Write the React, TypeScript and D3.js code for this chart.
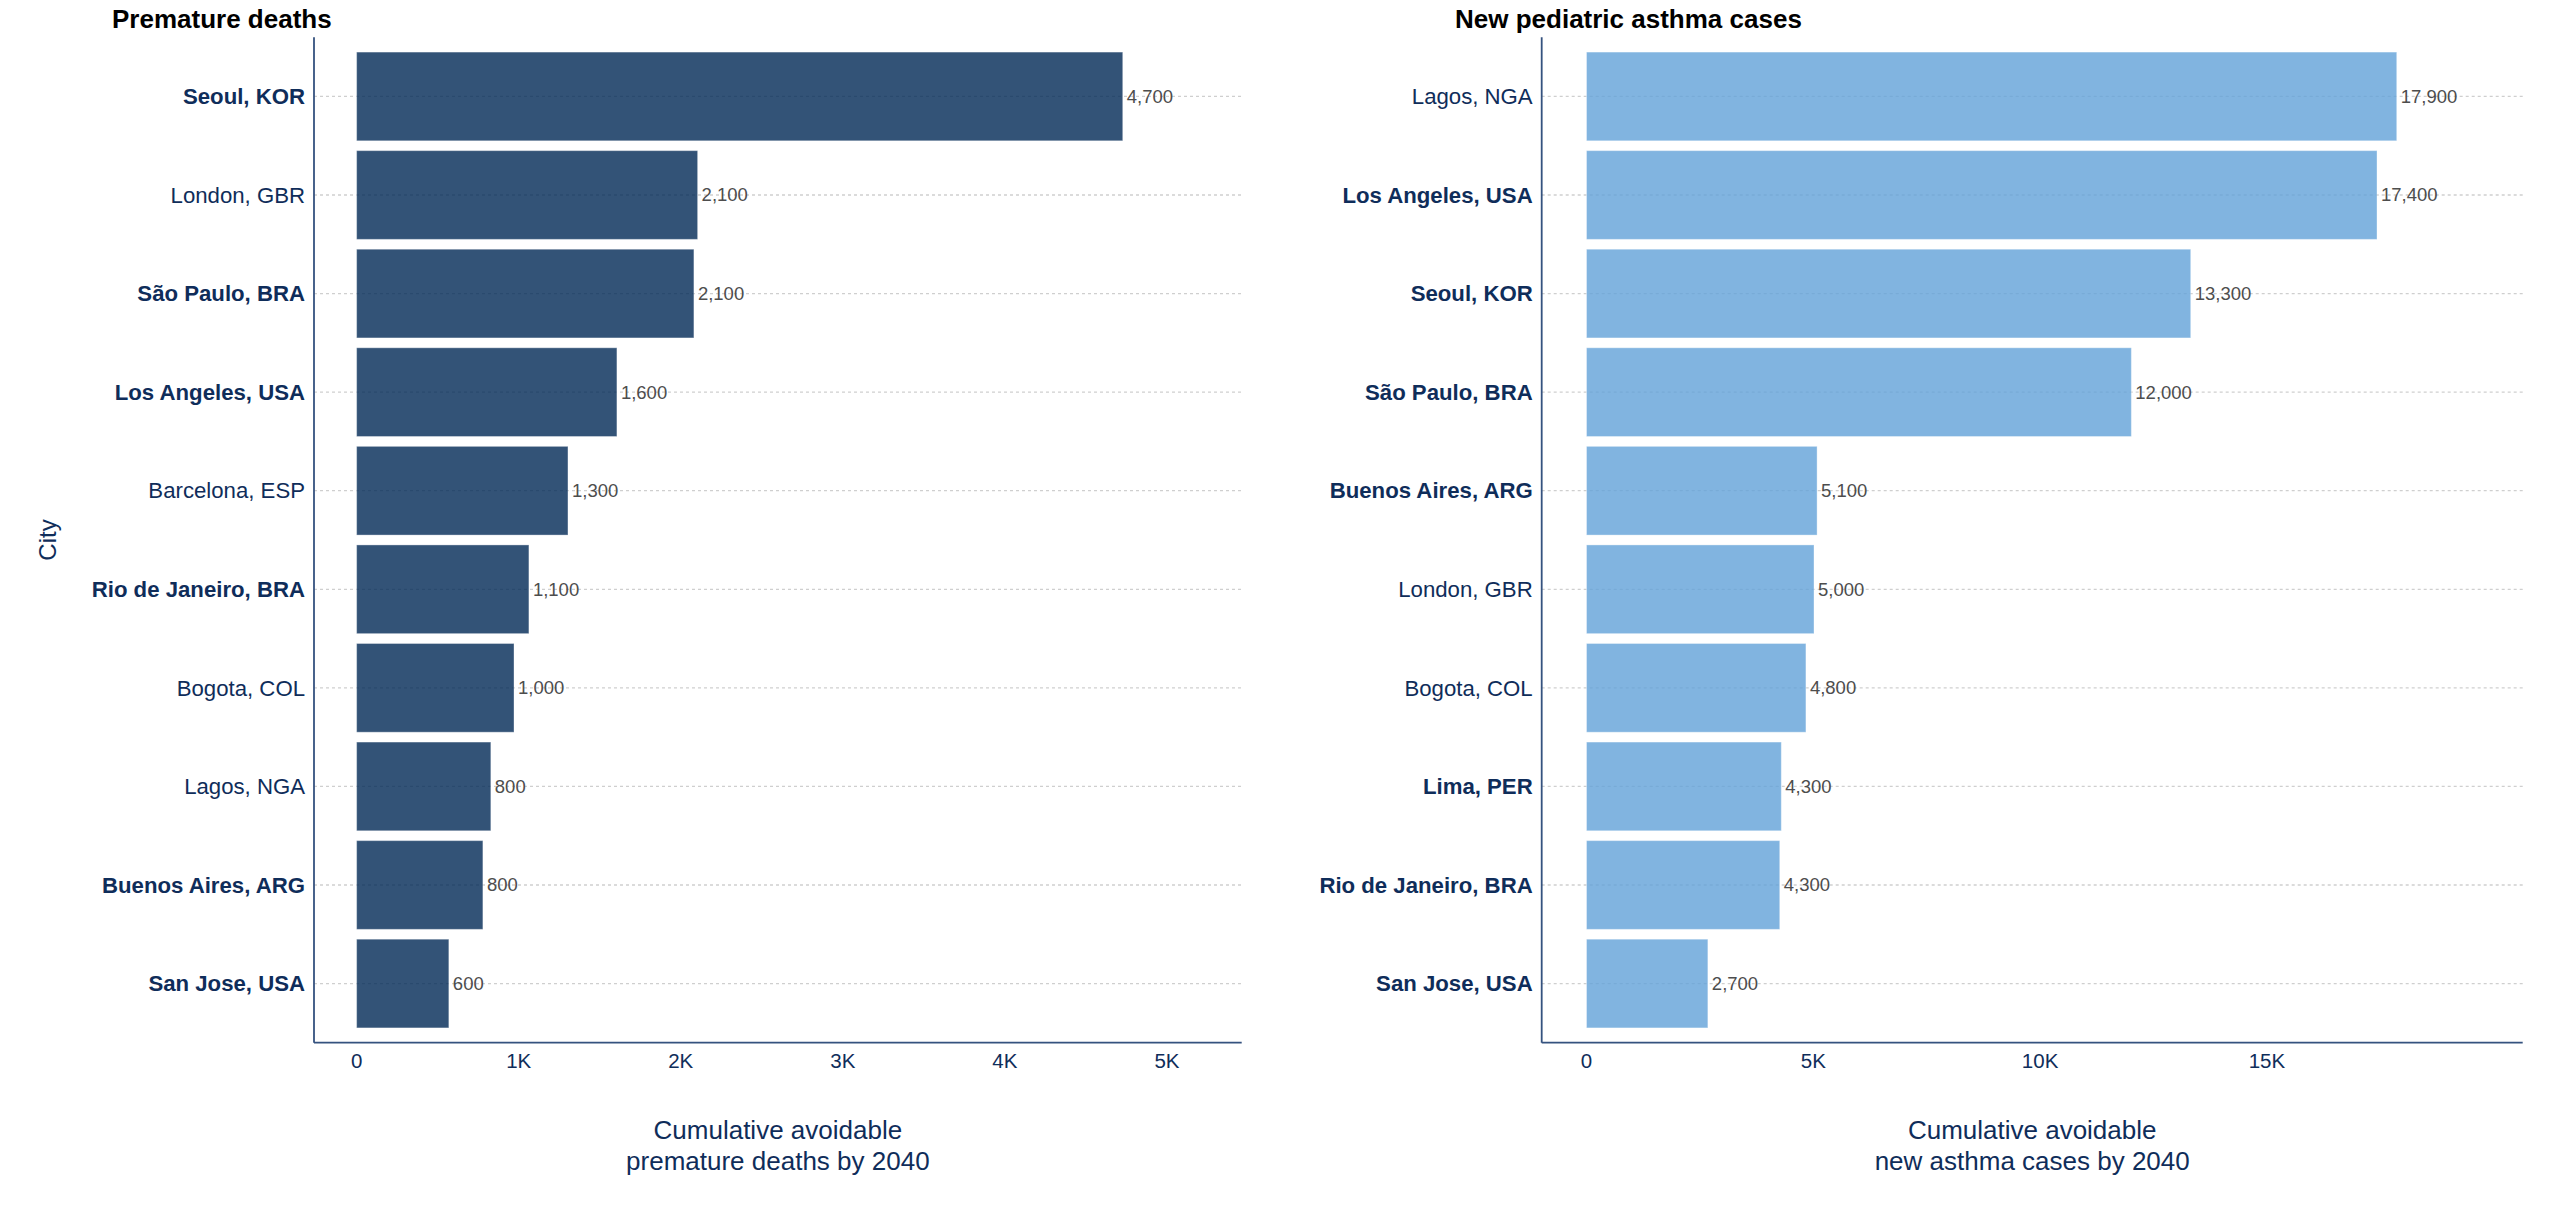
import React from 'react';
import * as d3 from 'd3';

// values
const deathCities = [
    'Seoul, KOR', 'London, GBR', 'São Paulo, BRA', 'Los Angeles, USA', 'Barcelona, ESP',
    'Rio de Janeiro, BRA', 'Bogota, COL', 'Lagos, NGA', 'Buenos Aires, ARG', 'San Jose, USA'
];
const deathValues = [4727, 2104, 2081, 1606, 1304, 1063, 971, 828, 779, 569];
const deathTicks = [0, 1000, 2000, 3000, 4000, 5000];

const asthmaCities = [
    'Lagos, NGA', 'Los Angeles, USA', 'Seoul, KOR', 'São Paulo, BRA', 'Buenos Aires, ARG',
    'London, GBR', 'Bogota, COL', 'Lima, PER', 'Rio de Janeiro, BRA', 'San Jose, USA'
];
const asthmaValues = [17862, 17427, 13320, 12011, 5083, 5015, 4837, 4294, 4260, 2675];
const asthmaTicks = [0, 5000, 10000, 15000];

const boldCities = [
    'Seoul, KOR', 'São Paulo, BRA', 'Los Angeles, USA', 'Rio de Janeiro, BRA',
    'Buenos Aires, ARG', 'San Jose, USA', 'Lima, PER'
];

const FONT = '"Liberation Sans", Arial, Helvetica, sans-serif';
const NAVY = '#0f2d5a';
const AXIS = '#35527f';

const W = 2560;
const H = 1213;
const top = 37.3;
const bottom = 1042.7;

const tickFmt = (v: number) => (v === 0 ? '0' : `${v / 1000}K`);
const valueFmt = (v: number) => d3.format(',')(Math.round(v / 100) * 100);

interface PanelProps {
    title: string;
    titleX: number;
    cities: string[];
    values: number[];
    ticks: number[];
    domain: [number, number];
    left: number;
    right: number;
    fill: string;
    xTitle: string[];
}

const Panel = (p: PanelProps) => {
    const x = d3.scaleLinear().domain(p.domain).range([p.left, p.right]);
    const y = d3.scaleBand<string>()
        .domain(p.cities)
        .range([top, bottom])
        .paddingInner(0.1)
        .paddingOuter(0.15);
    const bw = y.bandwidth();
    const mid = (p.left + p.right) / 2;

    return (
        <g>
            <text x={p.titleX} y={28} fontSize={26} fontWeight="bold" fill="#000">{p.title}</text>

            {/* gridlines */}
            {p.cities.map(c => (
                <line key={'g' + c} x1={p.left} x2={p.right}
                    y1={(y(c) as number) + bw / 2} y2={(y(c) as number) + bw / 2}
                    stroke="#cfcfcf" strokeWidth={1.3} strokeDasharray="3,3" />
            ))}

            {/* bars */}
            {p.cities.map((c, i) => (
                <rect key={'b' + c} x={x(0)} y={y(c)} width={x(p.values[i]) - x(0)} height={bw}
                    fill={p.fill} fillOpacity={0.8} stroke="#ffffff" strokeOpacity={0.35} strokeWidth={1} />
            ))}

            {/* value labels */}
            {p.cities.map((c, i) => (
                <text key={'v' + c} x={x(p.values[i]) + 4} y={(y(c) as number) + bw / 2}
                    dy="0.35em" fontSize={18.5} fill="#4d4d4d">{valueFmt(p.values[i])}</text>
            ))}

            {/* category labels */}
            {p.cities.map(c => (
                <text key={'c' + c} x={p.left - 9} y={(y(c) as number) + bw / 2} dy="0.35em"
                    textAnchor="end" fontSize={22.2} fill={NAVY}
                    fontWeight={boldCities.includes(c) ? 'bold' : 'normal'}>{c}</text>
            ))}

            {/* axes */}
            <line x1={p.left} x2={p.left} y1={top} y2={bottom} stroke={AXIS} strokeWidth={1.8} />
            <line x1={p.left} x2={p.right} y1={bottom} y2={bottom} stroke={AXIS} strokeWidth={1.8} />

            {p.ticks.map(t => (
                <text key={'t' + t} x={x(t)} y={1068.3} textAnchor="middle" fontSize={20.5} fill={NAVY}>
                    {tickFmt(t)}
                </text>
            ))}

            {p.xTitle.map((line, i) => (
                <text key={'x' + i} x={mid} y={1139 + i * 31} textAnchor="middle" fontSize={26} fill={NAVY}>
                    {line}
                </text>
            ))}
        </g>
    );
};

export default function App() {
    return (
        <svg width={W} height={H} fontFamily={FONT}
            style={{ position: 'absolute', left: 0, top: 0, display: 'block', background: '#fff' }}>
            <rect width={W} height={H} fill="#ffffff" />
            <Panel
                title="Premature deaths" titleX={112}
                cities={deathCities} values={deathValues} ticks={deathTicks}
                domain={[-263, 5461]} left={314} right={1241.7}
                fill="#002855"
                xTitle={['Cumulative avoidable', 'premature deaths by 2040']}
            />
            <Panel
                title="New pediatric asthma cases" titleX={1455}
                cities={asthmaCities} values={asthmaValues} ticks={asthmaTicks}
                domain={[-988, 20639]} left={1541.7} right={2522.7}
                fill="#62a1d8"
                xTitle={['Cumulative avoidable', 'new asthma cases by 2040']}
            />
            <text transform={`translate(56,${(top + bottom) / 2}) rotate(-90)`} textAnchor="middle"
                fontSize={24} fill={NAVY}>City</text>
        </svg>
    );
}
